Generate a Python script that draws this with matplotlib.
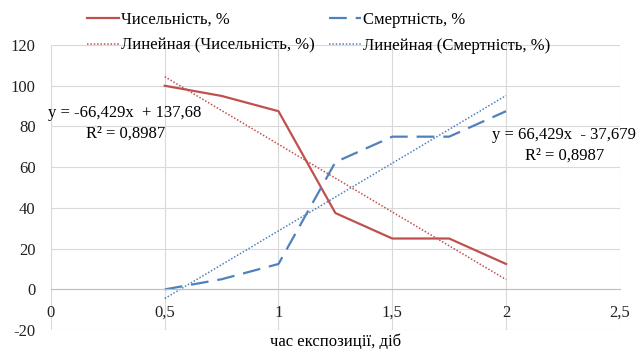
import numpy as np
import matplotlib.pyplot as plt
from matplotlib.ticker import FuncFormatter

plt.rcParams['font.family'] = ['Liberation Serif', 'DejaVu Serif']
plt.rcParams['axes.unicode_minus'] = False

x = [0.5, 0.75, 1.0, 1.25, 1.5, 1.75, 2.0]
chys = [100, 95, 87.5, 37.5, 25, 25, 12.5]
smert = [0, 5, 12.5, 62.5, 75, 75, 87.5]

red = '#C0504D'
blue = '#4F81BD'
fs = 12

fig = plt.figure(figsize=(6.37, 3.49), dpi=100)
ax = fig.add_axes([0.080, 0.054, 0.893, 0.817])

l1, = ax.plot(x, chys, color=red, lw=1.6, label='Чисельність, %')
l2, = ax.plot(x, smert, color=blue, lw=1.6, dashes=(8, 4), label='Смертність, %')

# linear trend lines (Excel "Линейная")
xa = np.array(x)
k1, b1 = np.polyfit(xa, chys, 1)
k2, b2 = np.polyfit(xa, smert, 1)
t1, = ax.plot(xa, k1 * xa + b1, color=red, lw=1.1, ls=(0, (1, 1.2)),
              label='Линейная (Чисельність, %)')
t2, = ax.plot(xa, k2 * xa + b2, color=blue, lw=1.1, ls=(0, (1, 1.2)),
              label='Линейная (Смертність, %)')

ax.set_xlim(0, 2.5)
ax.set_ylim(-20, 120)
ax.set_xticks([0, 0.5, 1, 1.5, 2, 2.5])
ax.set_yticks(range(-20, 121, 20))
ax.xaxis.set_major_formatter(FuncFormatter(lambda v, p: ('%g' % v).replace('.', ',')))
ax.grid(True, color='#D9D9D9', lw=0.8)
ax.set_axisbelow(True)
for s in ['top', 'right', 'left']:
    ax.spines[s].set_visible(False)
ax.spines['bottom'].set_position(('data', 0))
ax.spines['bottom'].set_color('#BFBFBF')
ax.tick_params(length=0, labelsize=fs, colors='#222222')
ax.tick_params(axis='x', pad=11)
ax.tick_params(axis='y', pad=11)

ax.set_xlabel('час експозиції, діб', fontsize=fs)
ax.xaxis.set_label_coords(0.5, -0.040)
ax.xaxis.label.set_va('center')

ax.text(-0.013, 86.6, 'y = -66,429x  + 137,68', fontsize=fs, ha='left', va='center')
ax.text(0.327, 76.3, 'R² = 0,8987', fontsize=fs, ha='center', va='center')
ax.text(2.572, 75.7, 'y = 66,429x  - 37,679', fontsize=fs, ha='right', va='center',
        clip_on=False)
ax.text(2.258, 65.8, 'R² = 0,8987', fontsize=fs, ha='center', va='center')

fig.legend([l1, t1, l2, t2], [h.get_label() for h in [l1, t1, l2, t2]],
           loc='upper left', bbox_to_anchor=(87 / 637, 0.966), ncol=2, frameon=False,
           fontsize=fs, handlelength=1.9, handletextpad=0.12, columnspacing=0.9,
           labelspacing=0.6, borderpad=0, borderaxespad=0)

fig.savefig('out.png', dpi=100)
